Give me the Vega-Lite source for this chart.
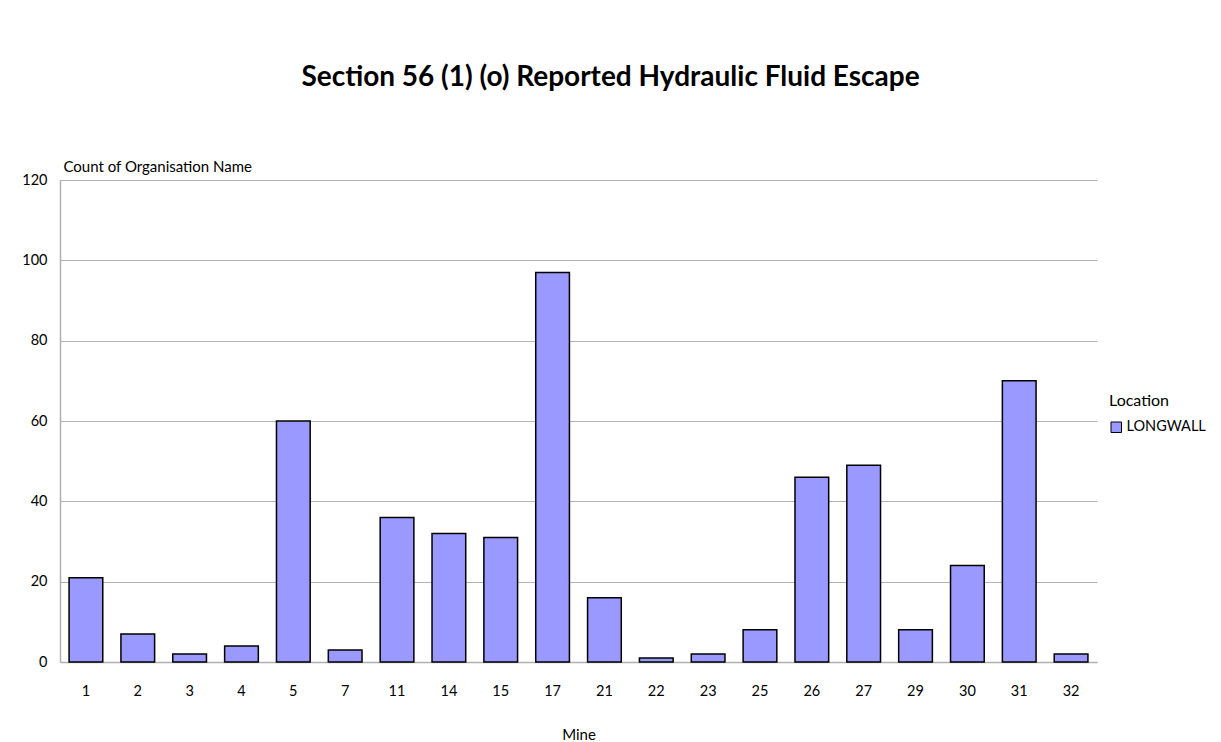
{
  "$schema": "https://vega.github.io/schema/vega-lite/v6.json",
  "width": 1037,
  "height": 482,
  "autosize": {"type": "none"},
  "padding": {"left": 60, "top": 180, "right": 124, "bottom": 80},
  "background": "white",
  "title": {
    "text": "Section 56 (1) (o) Reported Hydraulic Fluid Escape",
    "font": "Lato",
    "fontSize": 28,
    "fontWeight": "bold",
    "color": "black",
    "anchor": "middle",
    "dx": 32,
    "offset": 67
  },
  "data": {
    "values": [
      {"Mine": "1", "Location": "LONGWALL", "Count": 21},
      {"Mine": "2", "Location": "LONGWALL", "Count": 7},
      {"Mine": "3", "Location": "LONGWALL", "Count": 2},
      {"Mine": "4", "Location": "LONGWALL", "Count": 4},
      {"Mine": "5", "Location": "LONGWALL", "Count": 60},
      {"Mine": "7", "Location": "LONGWALL", "Count": 3},
      {"Mine": "11", "Location": "LONGWALL", "Count": 36},
      {"Mine": "14", "Location": "LONGWALL", "Count": 32},
      {"Mine": "15", "Location": "LONGWALL", "Count": 31},
      {"Mine": "17", "Location": "LONGWALL", "Count": 97},
      {"Mine": "21", "Location": "LONGWALL", "Count": 16},
      {"Mine": "22", "Location": "LONGWALL", "Count": 1},
      {"Mine": "23", "Location": "LONGWALL", "Count": 2},
      {"Mine": "25", "Location": "LONGWALL", "Count": 8},
      {"Mine": "26", "Location": "LONGWALL", "Count": 46},
      {"Mine": "27", "Location": "LONGWALL", "Count": 49},
      {"Mine": "29", "Location": "LONGWALL", "Count": 8},
      {"Mine": "30", "Location": "LONGWALL", "Count": 24},
      {"Mine": "31", "Location": "LONGWALL", "Count": 70},
      {"Mine": "32", "Location": "LONGWALL", "Count": 2}
    ]
  },
  "mark": {"type": "bar", "stroke": "black", "strokeWidth": 1.5},
  "encoding": {
    "x": {
      "field": "Mine",
      "type": "ordinal",
      "sort": null,
      "scale": {"paddingInner": 0.35, "paddingOuter": 0.175},
      "axis": {
        "title": "Mine",
        "labelAngle": 0,
        "ticks": false,
        "grid": false,
        "domainColor": "#b0b0b0",
        "domainWidth": 1.5,
        "labelPadding": 22,
        "labelFont": "Lato",
        "labelFontSize": 14.5,
        "labelColor": "black",
        "titleFont": "Lato",
        "titleFontSize": 15,
        "titleFontWeight": "normal",
        "titleColor": "black",
        "titlePadding": 30
      }
    },
    "y": {
      "field": "Count",
      "type": "quantitative",
      "scale": {"domain": [0, 120]},
      "axis": {
        "title": "Count of Organisation Name",
        "titleAngle": 0,
        "titleAlign": "left",
        "titleBaseline": "bottom",
        "titleX": 3,
        "titleY": -6,
        "titleFont": "Lato",
        "titleFontSize": 15,
        "titleFontWeight": "normal",
        "titleColor": "black",
        "values": [0, 20, 40, 60, 80, 100, 120],
        "ticks": false,
        "domainColor": "#b0b0b0",
        "domainWidth": 1.5,
        "gridColor": "#b3b3b3",
        "gridWidth": 1,
        "labelPadding": 13,
        "labelFont": "Lato",
        "labelFontSize": 14.5,
        "labelColor": "black"
      }
    },
    "color": {
      "field": "Location",
      "type": "nominal",
      "scale": {"range": ["#9999FF"]},
      "legend": {
        "orient": "none",
        "legendX": 1049,
        "legendY": 213,
        "title": "Location",
        "titleFont": "Lato",
        "titleFontSize": 16,
        "titleFontWeight": "normal",
        "titleColor": "black",
        "titlePadding": 11,
        "labelFont": "Lato",
        "labelFontSize": 14.5,
        "labelColor": "black",
        "labelOffset": 3,
        "symbolType": "square",
        "symbolSize": 110,
        "symbolStrokeColor": "black",
        "symbolStrokeWidth": 1
      }
    }
  },
  "config": {"view": {"stroke": null}}
}
